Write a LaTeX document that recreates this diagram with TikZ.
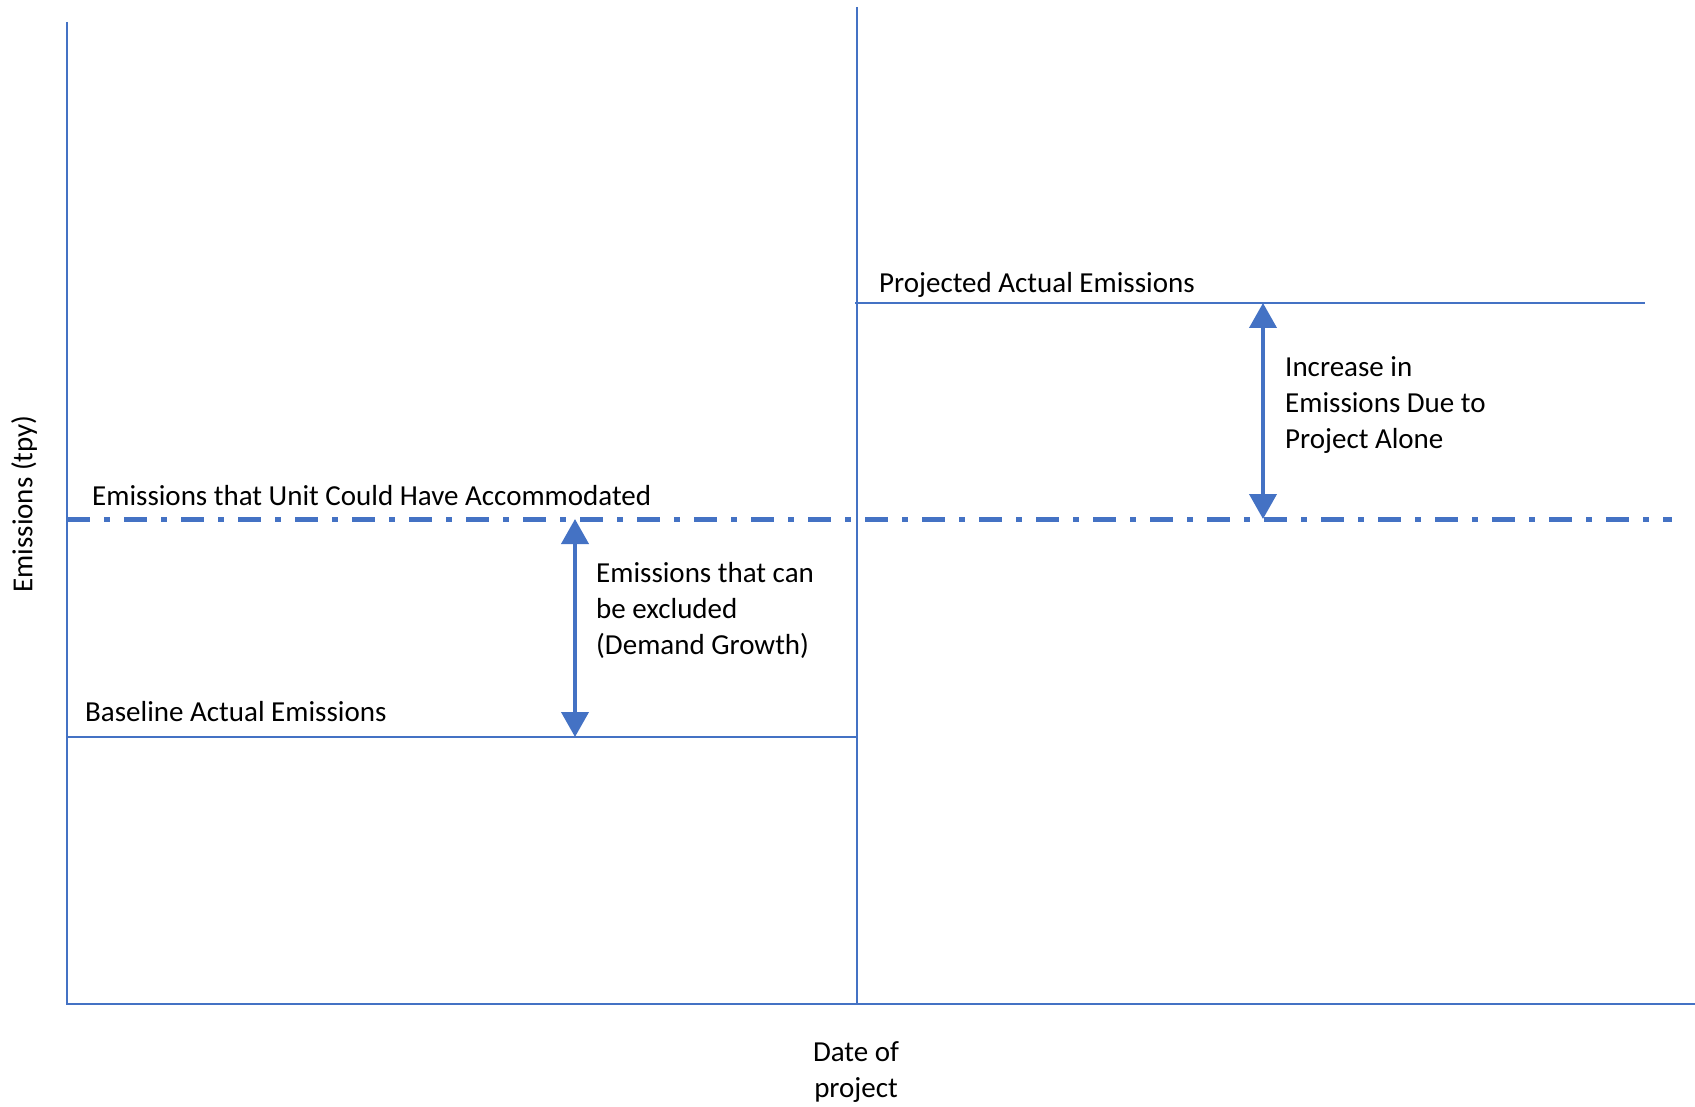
\documentclass[tikz,border=0pt]{standalone}
\usepackage{fontspec}
\setmainfont{Carlito}
\usetikzlibrary{arrows.meta}
\definecolor{chartblue}{HTML}{4472C4}
\begin{document}
\begin{tikzpicture}[x=1pt,y=-1pt,
  every node/.style={inner sep=0pt,font=\fontsize{29}{35.7}\selectfont},
  thinline/.style={draw=chartblue,line width=2pt},
  capline/.style={draw=chartblue,line width=5pt,dash pattern=on 23pt off 14pt on 6pt off 14pt},
  gaparrow/.style={draw=chartblue,line width=4pt,{Triangle[width=27pt,length=25pt]}-{Triangle[width=27pt,length=25pt]}}]
\useasboundingbox (0,0) rectangle (1695,1107);
% axes and date of project
\coordinate (origin) at (67,1004);
\coordinate (ytop) at (67,22);
\coordinate (xend) at (1695,1004);
\coordinate (dtop) at (857,7);
\coordinate (dbot) at (857,1004);
\draw[thinline] (ytop) -- (origin) -- (xend);
\draw[thinline] (dtop) -- (dbot);
\node[rotate=90] (ylabel) at (24,504) {Emissions (tpy)};
% base anchor of a multi-line node sits on its last line
\node[anchor=base,align=center] (datelabel) at (856,1097) {Date of\\project};
% emission levels
\coordinate (base0) at (67,737);
\coordinate (base1) at (857,737);
\coordinate (cap0) at (67,519);
\coordinate (cap1) at (1672,519);
\coordinate (proj0) at (855,303);
\coordinate (proj1) at (1645,303);
\draw[thinline] (base0) -- (base1);
\draw[thinline] (proj0) -- (proj1);
\draw[capline] (cap0) -- (cap1);
\node[anchor=base west] (baselabel) at (85,721) {Baseline Actual Emissions};
\node[anchor=base west] (caplabel) at (92,505) {Emissions that Unit Could Have Accommodated};
\node[anchor=base west] (projlabel) at (879,293) {Projected Actual Emissions};
% differences
\coordinate (dg0) at (575,519);
\coordinate (dg1) at (575,737);
\coordinate (pa0) at (1263,303);
\coordinate (pa1) at (1263,519);
\draw[gaparrow] (dg0) -- (dg1);
\draw[gaparrow] (pa0) -- (pa1);
\node[anchor=base west,align=left] (dglabel) at (596,654) {Emissions that can\\be excluded\\(Demand Growth)};
\node[anchor=base west,align=left] (palabel) at (1285,448) {Increase in\\Emissions Due to\\Project Alone};
\end{tikzpicture}
\end{document}
